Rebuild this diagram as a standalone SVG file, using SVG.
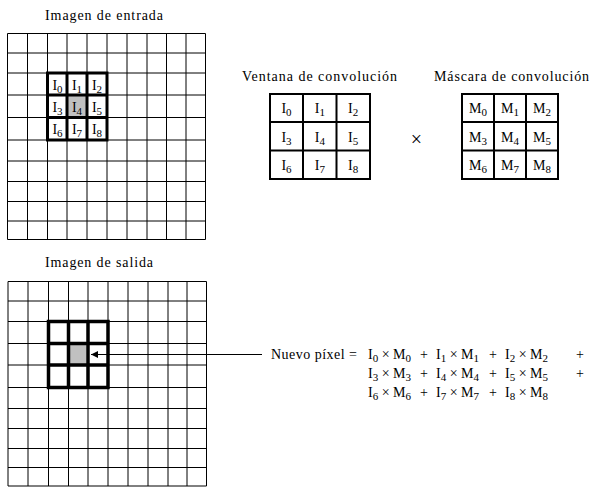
<svg xmlns="http://www.w3.org/2000/svg" width="605" height="495" viewBox="0 0 605 495">
<style>
.t{font-family:"Liberation Serif","DejaVu Serif","Noto Serif",serif;font-size:14px;fill:#000}
.c{text-anchor:middle}
.s{font-size:11px}
.thin{stroke:#000;stroke-width:1;fill:none}
.thk{stroke:#000;stroke-width:3;fill:none}
.med{stroke:#000;stroke-width:2;fill:none}
</style>
<defs>
<marker id="ah" markerWidth="8" markerHeight="7" refX="7" refY="3.5" orient="auto" markerUnits="userSpaceOnUse">
<path d="M0,0 L7,3.5 L0,7 Z" fill="#000"/>
</marker>
</defs>
<rect width="605" height="495" fill="#fff"/>

<g id="entrada">
<text class="t" x="45" y="20" textLength="118" lengthAdjust="spacing">Imagen de entrada</text>
<path class="thin" d="M7.5,33.5V239.5M27.5,33.5V239.5M47.5,33.5V239.5M67,33.5V239.5M87,33.5V239.5M107,33.5V239.5M127,33.5V239.5M147,33.5V239.5M166.5,33.5V239.5M186,33.5V239.5M205.5,33.5V239.5M7.5,33.5H205.5M7.5,53H205.5M7.5,73H205.5M7.5,95H205.5M7.5,117.5H205.5M7.5,140H205.5M7.5,161H205.5M7.5,181.5H205.5M7.5,201.5H205.5M7.5,221H205.5M7.5,239.5H205.5"/>
<rect x="67" y="95" width="20" height="22.5" fill="#c0c0c0"/>
<path class="thk" d="M47.5,73H107V140H47.5Z M67,73V140 M87,73V140 M47.5,95H107 M47.5,117.5H107"/>
<text class="t c" x="57.5" y="90">I<tspan class="s" dy="3">0</tspan></text>
<text class="t c" x="77" y="90">I<tspan class="s" dy="3">1</tspan></text>
<text class="t c" x="97" y="90">I<tspan class="s" dy="3">2</tspan></text>
<text class="t c" x="57.5" y="112">I<tspan class="s" dy="3">3</tspan></text>
<text class="t c" x="77" y="112">I<tspan class="s" dy="3">4</tspan></text>
<text class="t c" x="97" y="112">I<tspan class="s" dy="3">5</tspan></text>
<text class="t c" x="57.5" y="134">I<tspan class="s" dy="3">6</tspan></text>
<text class="t c" x="77" y="134">I<tspan class="s" dy="3">7</tspan></text>
<text class="t c" x="97" y="134">I<tspan class="s" dy="3">8</tspan></text>
</g>

<g id="ventana">
<text class="t" x="242" y="81" textLength="155" lengthAdjust="spacing">Ventana de convolución</text>
<path class="med" d="M270,94H370V179H270Z M303,94V179 M336.5,94V179 M270,122H370 M270,150.5H370"/>
<text class="t c" x="286.5" y="113">I<tspan class="s" dy="3">0</tspan></text>
<text class="t c" x="319.8" y="113">I<tspan class="s" dy="3">1</tspan></text>
<text class="t c" x="353.2" y="113">I<tspan class="s" dy="3">2</tspan></text>
<text class="t c" x="286.5" y="141.5">I<tspan class="s" dy="3">3</tspan></text>
<text class="t c" x="319.8" y="141.5">I<tspan class="s" dy="3">4</tspan></text>
<text class="t c" x="353.2" y="141.5">I<tspan class="s" dy="3">5</tspan></text>
<text class="t c" x="286.5" y="170">I<tspan class="s" dy="3">6</tspan></text>
<text class="t c" x="319.8" y="170">I<tspan class="s" dy="3">7</tspan></text>
<text class="t c" x="353.2" y="170">I<tspan class="s" dy="3">8</tspan></text>
</g>

<g id="por">
<text class="t c" x="416.5" y="146" style="font-size:20px">×</text>
</g>

<g id="mascara">
<text class="t" x="434" y="81" textLength="155" lengthAdjust="spacing">Máscara de convolución</text>
<path class="med" d="M462,94H558V179H462Z M494,94V179 M526,94V179 M462,122H558 M462,150.5H558"/>
<text class="t c" x="478" y="113">M<tspan class="s" dy="3">0</tspan></text>
<text class="t c" x="510" y="113">M<tspan class="s" dy="3">1</tspan></text>
<text class="t c" x="542" y="113">M<tspan class="s" dy="3">2</tspan></text>
<text class="t c" x="478" y="141.5">M<tspan class="s" dy="3">3</tspan></text>
<text class="t c" x="510" y="141.5">M<tspan class="s" dy="3">4</tspan></text>
<text class="t c" x="542" y="141.5">M<tspan class="s" dy="3">5</tspan></text>
<text class="t c" x="478" y="170">M<tspan class="s" dy="3">6</tspan></text>
<text class="t c" x="510" y="170">M<tspan class="s" dy="3">7</tspan></text>
<text class="t c" x="542" y="170">M<tspan class="s" dy="3">8</tspan></text>
</g>

<g id="salida">
<text class="t" x="45" y="267" textLength="108" lengthAdjust="spacing">Imagen de salida</text>
<path class="thin" d="M8,281.5V486M28,281.5V486M48.5,281.5V486M68.5,281.5V486M88,281.5V486M108,281.5V486M128,281.5V486M148,281.5V486M168,281.5V486M187,281.5V486M206.5,281.5V486M8,281.5H206.5M8,301H206.5M8,321.5H206.5M8,343.5H206.5M8,365H206.5M8,387.5H206.5M8,408.5H206.5M8,428.5H206.5M8,448.5H206.5M8,467.5H206.5M8,486H206.5"/>
<rect x="69.5" y="345" width="17" height="19" fill="#c0c0c0"/>
<path class="thk" style="stroke-width:3.5" d="M48.5,321.5H108V387.5H48.5Z M68.5,321.5V387.5 M88,321.5V387.5 M48.5,343.5H108 M48.5,365H108"/>
</g>

<g id="conectores">
<line x1="262" y1="354.5" x2="91" y2="354.5" stroke="#000" stroke-width="1" marker-end="url(#ah)"/>
</g>

<g id="formula">
<text class="t" x="271" y="359" textLength="86" lengthAdjust="spacing">Nuevo píxel =</text>
<text class="t" x="368" y="359">I<tspan class="s" dy="3">0</tspan><tspan dy="-3"> × M</tspan><tspan class="s" dy="3">0</tspan></text>
<text class="t c" x="424" y="359">+</text>
<text class="t" x="436" y="359">I<tspan class="s" dy="3">1</tspan><tspan dy="-3"> × M</tspan><tspan class="s" dy="3">1</tspan></text>
<text class="t c" x="493" y="359">+</text>
<text class="t" x="505" y="359">I<tspan class="s" dy="3">2</tspan><tspan dy="-3"> × M</tspan><tspan class="s" dy="3">2</tspan></text>
<text class="t c" x="580" y="359">+</text>
<text class="t" x="368" y="378">I<tspan class="s" dy="3">3</tspan><tspan dy="-3"> × M</tspan><tspan class="s" dy="3">3</tspan></text>
<text class="t c" x="424" y="378">+</text>
<text class="t" x="436" y="378">I<tspan class="s" dy="3">4</tspan><tspan dy="-3"> × M</tspan><tspan class="s" dy="3">4</tspan></text>
<text class="t c" x="493" y="378">+</text>
<text class="t" x="505" y="378">I<tspan class="s" dy="3">5</tspan><tspan dy="-3"> × M</tspan><tspan class="s" dy="3">5</tspan></text>
<text class="t c" x="580" y="378">+</text>
<text class="t" x="368" y="397">I<tspan class="s" dy="3">6</tspan><tspan dy="-3"> × M</tspan><tspan class="s" dy="3">6</tspan></text>
<text class="t c" x="424" y="397">+</text>
<text class="t" x="436" y="397">I<tspan class="s" dy="3">7</tspan><tspan dy="-3"> × M</tspan><tspan class="s" dy="3">7</tspan></text>
<text class="t c" x="493" y="397">+</text>
<text class="t" x="505" y="397">I<tspan class="s" dy="3">8</tspan><tspan dy="-3"> × M</tspan><tspan class="s" dy="3">8</tspan></text>
</g>
</svg>
